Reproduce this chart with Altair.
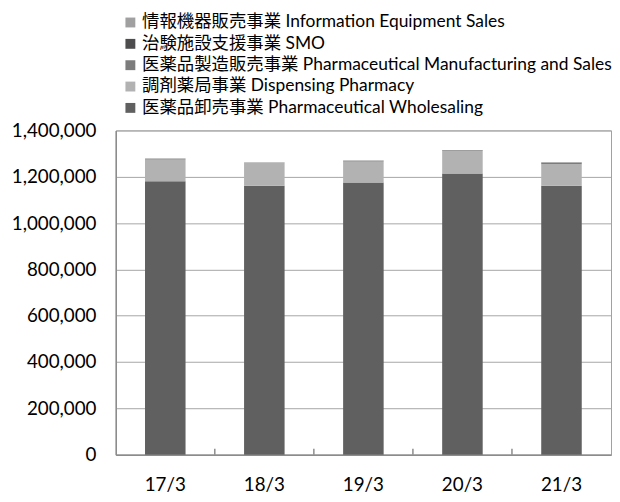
import altair as alt
import pandas as pd

years = ["17/3", "18/3", "19/3", "20/3", "21/3"]

# segments listed bottom (first) to top (last) of the stack
seg_names = [
    "医薬品卸売事業 Pharmaceutical Wholesaling",
    "調剤薬局事業 Dispensing Pharmacy",
    "医薬品製造販売事業 Pharmaceutical Manufacturing and Sales",
    "治験施設支援事業 SMO",
    "情報機器販売事業 Information Equipment Sales",
]
wholesale = [1181000, 1161000, 1175000, 1214000, 1161000]
dispensing = [95000, 98000, 92000, 98000, 93000]
manufacturing = [0, 0, 0, 0, 6000]
smo = [2000, 2000, 2000, 2000, 2000]
info = [1000, 1000, 1000, 1000, 1000]
seg_values = [wholesale, dispensing, manufacturing, smo, info]
seg_colors = ["#606060", "#b2b2b2", "#7c7c7c", "#4d4d4d", "#a0a0a0"]

y_ticks = [0, 200000, 400000, 600000, 800000, 1000000, 1200000, 1400000]

rows = []
for i, (name, vals) in enumerate(zip(seg_names, seg_values)):
    for y, v in zip(years, vals):
        rows.append({"year": y, "segment": name, "value": v, "order": i})
df = pd.DataFrame(rows)

FONT = "Lato, 'Noto Sans CJK JP', sans-serif"
legend_order = seg_names[::-1]
legend_colors = seg_colors[::-1]

bars = alt.Chart(df).mark_bar(size=41).encode(
    x=alt.X(
        "year:N",
        sort=years,
        scale=alt.Scale(paddingInner=0, paddingOuter=0),
        axis=alt.Axis(
            title=None, labelAngle=0, ticks=False, labelPadding=21,
            labelFontSize=19, domainColor="#8c8c8c", domainWidth=1.5,
            grid=False,
        ),
    ),
    y=alt.Y(
        "value:Q",
        stack="zero",
        scale=alt.Scale(domain=[0, 1400000], nice=False),
        axis=alt.Axis(
            title=None, values=y_ticks, format=",d", ticks=False,
            labelPadding=20, labelFontSize=19, domainColor="#8c8c8c",
            domainWidth=1.5, grid=True, gridColor="#a6a6a6", gridWidth=1,
        ),
    ),
    color=alt.Color(
        "segment:N",
        scale=alt.Scale(domain=legend_order, range=legend_colors),
        legend=alt.Legend(
            title=None, orient="none", legendX=6, legendY=-118,
            symbolType="square", symbolSize=100, symbolStrokeWidth=0,
            labelFontSize=17.6, labelOffset=3, rowPadding=2.6, padding=0,
            labelLimit=600, direction="vertical",
        ),
    ),
    order=alt.Order("order:Q", sort="ascending"),
)

ticks = alt.Chart(pd.DataFrame({"year": years[1:]})).mark_rule(
    color="#8c8c8c", strokeWidth=1.5
).encode(
    x=alt.X("year:N", sort=years, bandPosition=0),
    y=alt.value(328),
    y2=alt.value(322),
)

chart = alt.layer(bars, ticks).properties(
    width=501,
    height=328,
    autosize=alt.AutoSizeParams(type="none"),
    padding={"left": 109, "top": 121, "right": 1, "bottom": 44},
).configure(
    font=FONT,
).configure_view(
    stroke="#a0a0a0", strokeWidth=1,
).configure_axis(
    labelFont=FONT, labelColor="#000000",
).configure_legend(
    labelFont=FONT, labelColor="#000000",
)

chart.save("out.html", embed_options={"renderer": "svg", "actions": False})
